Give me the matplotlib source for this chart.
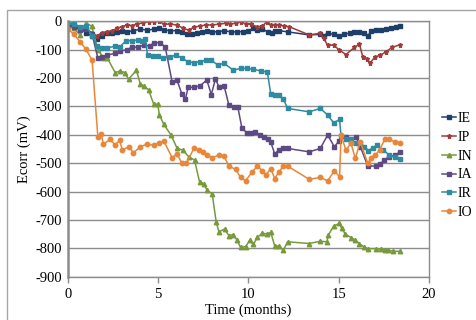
import matplotlib
matplotlib.use('Agg')
import matplotlib.pyplot as plt
from matplotlib.patches import Rectangle

plt.rcParams['font.family'] = ['Liberation Serif', 'DejaVu Serif']

# %% data (time in months, Ecorr in mV)
t_IE = [0, 0.35, 0.68, 1.02, 1.35, 1.61, 1.89, 2.16, 2.44, 2.72, 3.0, 3.28, 3.64, 4.02, 4.39,
        4.76, 5.03, 5.31, 5.68, 6.06, 6.33, 6.61, 6.89, 7.17, 7.44, 7.72, 8.0, 8.31, 8.65,
        9.02, 9.39, 9.7, 10.0, 10.28, 10.5, 10.78, 11.09, 11.3, 11.5, 11.7, 12.17, 13.37,
        13.98, 14.16, 14.39, 14.72, 15.03, 15.3, 15.6, 15.87, 16.15, 16.4, 16.61, 16.8,
        17.07, 17.35, 17.62, 17.9, 18.15, 18.42]
e_IE = [-13, -17, -25, -40, -52, -62, -50, -42, -40, -37, -35, -37, -33, -28, -31,
        -28, -25, -30, -33, -33, -38, -44, -45, -40, -37, -33, -37, -37, -33,
        -37, -37, -36, -33, -25, -31, -28, -37, -42, -33, -33, -37, -48,
        -46, -50, -42, -46, -52, -45, -42, -39, -37, -42, -52, -33,
        -31, -31, -28, -25, -19, -17]

t_IP = [0, 0.35, 0.68, 1.02, 1.35, 1.61, 1.89, 2.16, 2.44, 2.72, 3.0, 3.28, 3.55, 3.83,
        4.17, 4.48, 4.76, 5.03, 5.31, 5.68, 6.06, 6.39, 6.7, 6.98, 7.31, 7.63, 8.0, 8.37,
        8.74, 9.0, 9.3, 9.61, 9.85, 10.17, 10.46, 10.78, 11.02, 11.24, 11.46, 11.7, 11.98,
        12.26, 13.37, 13.98, 14.16, 14.39, 14.72, 15.03, 15.4, 15.87, 16.15, 16.33, 16.57,
        16.74, 17.0, 17.3, 17.6, 17.95, 18.42]
e_IP = [-7, -10, -19, -28, -40, -52, -40, -37, -33, -25, -19, -13, -15, -10,
        -5, -1, -1, 2, -10, -10, -13, -25, -31, -21, -17, -13, -13, -10,
        -7, -10, -7, -1, -10, -10, -19, -17, -1, -13, -13, -13, -17,
        -19, -48, -42, -60, -84, -84, -101, -117, -92, -80, -125, -132,
        -147, -126, -120, -108, -92, -82]

t_IN = [0, 0.35, 0.68, 1.02, 1.33, 1.67, 1.98, 2.2, 2.63, 2.9, 3.18, 3.37, 3.8, 4.02, 4.24,
        4.48, 4.76, 4.98, 5.08, 5.31, 5.72, 6.06, 6.39, 6.7, 7.02, 7.3, 7.53, 7.72, 8.0,
        8.22, 8.37, 8.68, 8.92, 9.17, 9.35, 9.57, 9.85, 10.07, 10.28, 10.5, 10.78, 11.02,
        11.24, 11.46, 11.7, 11.94, 12.17, 13.37, 13.98, 14.35, 14.42, 14.72, 15.03, 15.17,
        15.37, 15.68, 15.92, 16.15, 16.39, 16.61, 17.07, 17.35, 17.57, 17.72, 18.0, 18.42]
e_IN = [-17, -25, -48, -7, -17, -100, -128, -130, -181, -175, -181, -205, -172, -221, -228,
        -242, -292, -292, -330, -362, -401, -448, -454, -478, -489, -566, -572, -596, -608,
        -707, -742, -732, -755, -752, -769, -797, -794, -772, -786, -761, -747, -749,
        -744, -792, -792, -807, -777, -783, -775, -777, -754, -722, -712, -730,
        -750, -762, -771, -783, -795, -801, -801, -803, -805, -807, -810, -811]

t_IA = [0, 0.35, 0.68, 1.02, 1.35, 1.67, 1.89, 2.16, 2.63, 2.9, 3.28, 3.55, 3.87, 4.2,
        4.53, 4.8, 5.13, 5.4, 5.78, 6.04, 6.33, 6.52, 6.67, 6.98, 7.33, 7.7, 7.95, 8.18,
        8.37, 8.66, 8.92, 9.22, 9.42, 9.64, 9.91, 10.13, 10.35, 10.63, 10.85, 11.08, 11.24,
        11.46, 11.7, 11.94, 12.17, 13.37, 13.98, 14.39, 14.76, 15.03, 15.4, 15.68, 15.96,
        16.2, 16.61, 17.07, 17.31, 17.53, 17.81, 18.09, 18.42]
e_IA = [-13, -19, -31, -28, -45, -130, -127, -119, -113, -104, -101, -90, -92, -84,
        -87, -75, -75, -91, -213, -206, -257, -273, -232, -233, -227, -207, -258, -203,
        -231, -228, -295, -302, -303, -375, -393, -393, -389, -401, -407, -414, -425,
        -468, -452, -445, -448, -460, -448, -401, -442, -421, -407, -425, -407,
        -442, -510, -510, -503, -487, -478, -472, -460]

t_IR = [0, 0.35, 0.68, 1.02, 1.35, 1.61, 1.89, 2.16, 2.63, 2.9, 3.24, 3.55, 3.87, 4.1,
        4.3, 4.42, 4.7, 5.0, 5.3, 5.68, 6.02, 6.33, 6.64, 6.98, 7.31, 7.68, 7.94, 8.31,
        8.65, 9.17, 9.57, 9.94, 10.28, 10.68, 11.05, 11.24, 11.46, 11.7, 11.94, 12.17,
        13.37, 13.98, 14.39, 14.72, 15.05, 15.13, 15.4, 15.68, 15.96, 16.2, 16.42, 16.65,
        16.89, 17.13, 17.44, 17.81, 18.09, 18.42]
e_IR = [-1, -10, -19, -15, -50, -87, -95, -95, -87, -89, -68, -68, -66, -70,
        -64, -120, -122, -124, -130, -125, -119, -130, -142, -146, -142, -137, -137, -154,
        -148, -172, -166, -166, -169, -175, -178, -256, -260, -260, -274, -307,
        -319, -307, -330, -358, -346, -405, -416, -416, -430, -428, -442, -456,
        -445, -437, -452, -472, -478, -486]

t_IO = [0.03, 0.35, 0.68, 1.02, 1.35, 1.67, 1.85, 1.98, 2.35, 2.63, 2.87, 3.03, 3.37, 3.64,
        4.02, 4.39, 4.76, 5.03, 5.31, 5.78, 6.06, 6.33, 6.57, 6.98, 7.26, 7.5, 7.72, 8.0,
        8.37, 8.65, 8.92, 9.3, 9.57, 9.85, 10.22, 10.5, 10.78, 10.96, 11.24, 11.46, 11.7,
        11.94, 12.17, 13.37, 13.98, 14.39, 14.76, 15.05, 15.13, 15.4, 15.68, 15.92, 16.2,
        16.61, 16.8, 17.02, 17.26, 17.57, 17.81, 18.09, 18.42]
e_IO = [-28, -46, -72, -99, -137, -407, -398, -433, -416, -436, -419, -454, -442, -463,
        -442, -433, -437, -430, -421, -480, -468, -501, -501, -448, -452, -460, -472, -480,
        -472, -475, -510, -522, -550, -562, -530, -510, -527, -542, -519, -554, -530,
        -510, -510, -557, -550, -562, -527, -548, -401, -454, -430, -483, -425,
        -501, -483, -472, -454, -413, -416, -425, -428]

labels = ['IE', 'IP', 'IN', 'IA', 'IR', 'IO']
colors = ['#1F3F6B', '#A23B3A', '#779A3C', '#5E4A82', '#2E8BA0', '#E8873A']
markers = ['s', '*', '^', 's', 's', 'o']
msizes = [3.2, 3.6, 3.2, 3.2, 3.2, 3.2]
series = [(t_IE, e_IE), (t_IP, e_IP), (t_IN, e_IN), (t_IA, e_IA), (t_IR, e_IR), (t_IO, e_IO)]

# %% figure
fig = plt.figure(figsize=(4.76, 3.2), dpi=100)
ax = fig.add_axes([0.1422, 0.1353, 0.9013 - 0.1422, 0.9334 - 0.1353])

for (t, e), lab, c, m, ms in zip(series, labels, colors, markers, msizes):
    ax.plot(t, e, color=c, marker=m, markersize=ms, linewidth=1.1,
            markeredgecolor=c, label=lab)

ax.set_xlim(0, 20)
ax.set_ylim(-900, 0)
ax.set_xticks([0, 5, 10, 15, 20])
ax.set_yticks(range(-900, 1, 100))
ax.set_yticklabels([str(v) for v in range(-900, 1, 100)])
ax.yaxis.grid(True, color='#8c8c8c', linewidth=1.0)
ax.set_axisbelow(True)
for s in ['top', 'right', 'bottom']:
    ax.spines[s].set_color('#8c8c8c')
    ax.spines[s].set_linewidth(1.0)
ax.spines['left'].set_color('#8c8c8c')
ax.spines['left'].set_linewidth(1.8)
ax.tick_params(axis='both', colors='#8c8c8c', labelcolor='black', labelsize=10.5,
               width=1)
ax.tick_params(axis='x', length=4, pad=4)
ax.tick_params(axis='y', length=0, pad=4)

ax.set_xlabel('Time (months)', fontsize=10.5, labelpad=2)
ax.set_ylabel('Ecorr (mV)', fontsize=10.5, labelpad=3)

h, l = ax.get_legend_handles_labels()
fig.legend(h, l, loc='upper left', bbox_to_anchor=(442 / 476, 1 - 112 / 320),
           frameon=False, fontsize=10, handlelength=1.0, handletextpad=0.1,
           labelspacing=0.42, borderpad=0, borderaxespad=0)

# outer chart border
fig.patches.append(Rectangle((6.5 / 476, -0.05), 1.1, (320 - 10) / 320 + 0.05,
                             transform=fig.transFigure, fill=False,
                             edgecolor='#a6a6a6', linewidth=1.0))

plt.savefig('out.png', dpi=100)
